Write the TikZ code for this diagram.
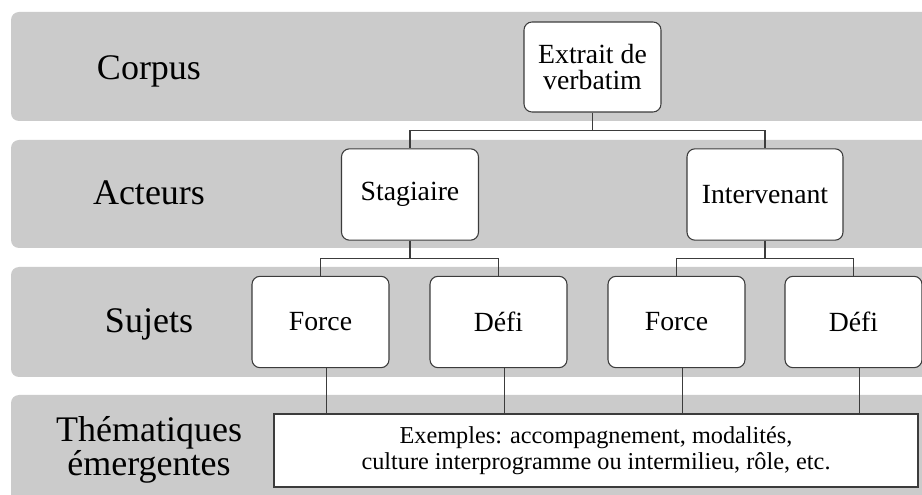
\documentclass[tikz,border=0pt]{standalone}
\usepackage{fontspec}
\setmainfont{Liberation Serif}
\usepackage{xcolor}
\usetikzlibrary{positioning}

\definecolor{bandgray}{HTML}{CBCBCB}
\definecolor{linegray}{HTML}{3C3C3C}

\begin{document}
\begin{tikzpicture}[
x=0.75pt, y=-0.75pt,
band/.style={fill=bandgray, rounded corners=6pt},
bandlabel/.style={
anchor=base,
align=center,
font=\fontsize{27}{24.8}\selectfont
},
boite/.style={
draw=linegray,
line width=0.8pt,
fill=white,
rounded corners=6pt,
align=center,
inner sep=0pt,
minimum width=102.75pt,
minimum height=68.5pt,
font=\fontsize{20.8}{19.5}\selectfont
},
exbox/.style={
draw=linegray,
line width=0.8pt,
fill=white,
align=center,
inner sep=0pt,
minimum width=483pt,
minimum height=54.75pt,
font=\fontsize{18.2}{19.8}\selectfont
},
lien/.style={draw=linegray, line width=0.8pt}
]

\useasboundingbox (0,0) rectangle (922,495);
\clip (0,0) rectangle (922,495);

% Bandes
\fill[band] (11,12) rectangle (940,121);
\fill[band] (11,140) rectangle (940,248);
\fill[band] (11,267) rectangle (940,377);
\fill[band] (11,395) rectangle (940,530);

\node[bandlabel] (lcorpus) at (149,80) {Corpus};
\node[bandlabel] (lacteurs) at (149,205) {Acteurs};
\node[bandlabel] (lsujets) at (149,333) {Sujets};
\node[bandlabel] (lthemes) at (149,475) {Thématiques\\émergentes};

% Arbre
\node[boite, minimum height=67.5pt] (extrait) at (592.5,67) {Extrait de\\verbatim};

\node[boite] (stag) at (410,194.5) {Stagiaire};

\node[boite, minimum width=117pt] (interv) at (765,194.5) {Intervenant};

\node[boite] (force1) at (320.5,322) {Force};
\node[boite] (defi1) at (498.5,322) {Défi};
\node[boite] (force2) at (676.5,322) {Force};
\node[boite] (defi2) at (853.5,322) {Défi};

\node[exbox] (ex) at (596,450.5) {Exemples: accompagnement, modalités,\\culture interprogramme ou intermilieu, rôle, etc.};

\draw[lien] (extrait.south) -- ++(0,18) -| (stag.north);
\draw[lien] (extrait.south) ++(0,18) -| (interv.north);

\draw[lien] (stag.south) -- ++(0,18) -| (force1.north);
\draw[lien] (stag.south) ++(0,18) -| (defi1.north);

\draw[lien] (interv.south) -- ++(0,18) -| (force2.north);
\draw[lien] (interv.south) ++(0,18) -| (defi2.north);

% Vers les thematiques
\draw[lien] ([xshift=4.5pt]force1.south) -- ([xshift=4.5pt]force1.south |- ex.north);
\draw[lien] ([xshift=4.5pt]defi1.south) -- ([xshift=4.5pt]defi1.south |- ex.north);
\draw[lien] ([xshift=4.5pt]force2.south) -- ([xshift=4.5pt]force2.south |- ex.north);
\draw[lien] ([xshift=4.5pt]defi2.south) -- ([xshift=4.5pt]defi2.south |- ex.north);

\end{tikzpicture}
\end{document}
